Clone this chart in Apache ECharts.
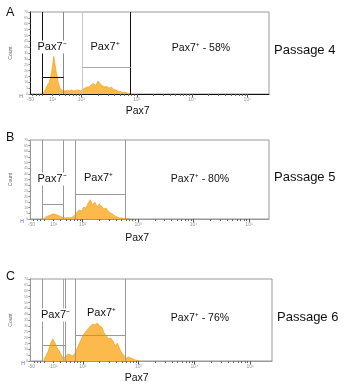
<!DOCTYPE html>
<html><head><meta charset="utf-8">
<script src="https://cdn.jsdelivr.net/npm/echarts@6/dist/echarts.min.js"></script>
<style>html,body{margin:0;padding:0;background:#fff}#c{width:356px;height:391px}</style>
</head><body><div id="c"></div>
<script>
// ---- data ----
const binStart = 1.30;   // first bin centre (log10 decades of Pax7 intensity)
const binWidth = 0.04;   // bin width in decades
const countsP4 = [0, 3, 7, 10, 18, 32, 20, 10, 4, 3, 2.5, 3, 2.5, 3.5, 2.5, 3, 3.5, 2.5, 4, 5, 6, 6, 8, 9, 7, 11, 8.5, 7, 6, 6.5, 5, 6, 4, 3.5, 2.5, 2, 1.5, 1.5, 1, 0.5, 0];
const countsP5 = [0.4, 1.8, 2.7, 3.5, 4.4, 4.4, 3.5, 2.7, 1.8, 1.3, 0.9, 1.3, 0.9, 1.8, 3.5, 6.2, 8, 7, 10.6, 9.7, 14, 17, 12.4, 15, 10.6, 13.3, 11.5, 8.9, 9.7, 7, 5.3, 4.4, 2.7, 1.8, 0.9, 0.9, 0.4, 0.4, 0.3, 0];
const countsP6 = [1.5, 4.3, 8.5, 14.5, 19, 15.4, 11, 8.5, 4.3, 2.6, 4.3, 6, 5.1, 4.3, 6.8, 11, 15.4, 19.6, 23, 25.6, 28, 30, 31.6, 30.7, 32.5, 30, 29, 24, 21.4, 19, 19.6, 17, 12.8, 15.4, 10.2, 6.8, 4.3, 2.6, 3.4, 2.6, 1.7, 0.9, 0.4, 0];
// gates: [from, to, bar height]
const negGateP4 = [1.29, 1.68, 14.5], posGateP4 = [2.02, 2.89, 23];
const negGateP5 = [1.27, 1.645, 13.3], posGateP5 = [1.86, 2.76, 22];
const negGateP6 = [1.27, 1.68, 13.7], posGateP6 = [1.858, 2.764, 22];
const extraLinesP6 = [1.645];
const passages = ['Passage 4', 'Passage 5', 'Passage 6'];
const panelLetters = ['A', 'B', 'C'];
const posPercents = [58, 80, 76];
const majorTickVals = [2, 3, 4, 5];
const majorTickLabels = ['10²', '10³', '10⁴', '10⁵'];
const lowTickVals = [1.08, 1.48];
const lowTickLabels = ['-50', '10¹'];
const yMax = 70, yStep = 5;

// ---- layout ----
const FONT = "'Liberation Sans', Arial, sans-serif";
const panels = [
  { counts: countsP4, neg: negGateP4, pos: posGateP4, extra: [],
    grid: { left: 26, top: 12, width: 243, height: 82 }, xMin: 1.077, xMax: 5.39,
    axisColor: '#111', nameGap: 12, namePad: 24,
    vCol: ['#111', '#888', '#c8c8c8', '#111'], hCol: ['#111', '#aaa'],
    negText: [52, 47], posText: [105, 47], pctText: [201, 48], passText: [274, 50], letter: [6, 13] },
  { counts: countsP5, neg: negGateP5, pos: posGateP5, extra: [],
    grid: { left: 27, top: 140, width: 242, height: 79 }, xMin: 1.059, xMax: 5.357,
    axisColor: '#999', nameGap: 14, namePad: 25,
    vCol: ['#999', '#999', '#999', '#999'], hCol: ['#999', '#999'],
    negText: [52, 179], posText: [98.5, 178], pctText: [200, 179], passText: [274, 177], letter: [6, 138] },
  { counts: countsP6, neg: negGateP6, pos: posGateP6, extra: extraLinesP6,
    grid: { left: 28, top: 279, width: 244, height: 82 }, xMin: 1.059, xMax: 5.39,
    axisColor: '#999', nameGap: 12, namePad: 29,
    vCol: ['#999', '#999', '#999', '#999'], hCol: ['#999', '#999'],
    negText: [55.5, 315], posText: [101.5, 313], pctText: [200, 318], passText: [277, 317], letter: [6, 277] }
];

// axis tick positions (log decades)
const minorTicks = [1.12, 1.18, 1.24];
for (let n = 1; n <= 4; n++) for (let k = 2; k <= 9; k++) minorTicks.push(Math.log10(k * Math.pow(10, n)));
const labelVals = lowTickVals.concat(majorTickVals);
const labelTexts = lowTickLabels.concat(majorTickLabels);

const grids = [], xAxes = [], yAxes = [], series = [], graphics = [];
panels.forEach((p, i) => {
  grids.push(Object.assign({ show: true, borderColor: '#999', borderWidth: 1, backgroundColor: '#fff' }, p.grid));
  xAxes.push({
    gridIndex: i, type: 'value', min: p.xMin, max: p.xMax, position: 'bottom',
    name: 'Pax7', nameLocation: 'middle', nameGap: p.nameGap,
    nameTextStyle: { fontFamily: FONT, fontSize: 10.5, color: '#111', padding: [0, p.namePad, 0, 0] },
    axisLine: { show: true, lineStyle: { color: p.axisColor, width: 1 } },
    axisTick: { show: true, length: 3.5, customValues: majorTickVals, lineStyle: { color: '#555' } },
    axisLabel: { show: true, customValues: labelVals, fontSize: 5, color: '#999', margin: 3, fontFamily: FONT,
      formatter: v => { const j = labelVals.findIndex(t => Math.abs(t - v) < 1e-6); return j >= 0 ? labelTexts[j] : ''; } },
    splitLine: { show: false }
  });
  xAxes.push({
    gridIndex: i, type: 'value', min: p.xMin, max: p.xMax, position: 'bottom',
    axisLine: { show: false },
    axisTick: { show: true, length: 2, customValues: minorTicks, lineStyle: { color: '#666' } },
    axisLabel: { show: false }, splitLine: { show: false }
  });
  yAxes.push({
    gridIndex: i, type: 'value', min: 0, max: yMax, interval: yStep,
    name: 'Count', nameLocation: 'middle', nameGap: 10,
    nameTextStyle: { fontFamily: FONT, fontSize: 5, color: '#666' },
    axisLine: { show: true, lineStyle: { color: p.axisColor, width: 1 } },
    axisTick: { show: true, length: 2, lineStyle: { color: '#888' } },
    axisLabel: { fontSize: 4, color: '#999', margin: 2, fontFamily: FONT },
    splitLine: { show: false }
  });
  const data = p.counts.map((c, j) => [binStart + j * binWidth, c]);
  const v = [p.neg[0], p.neg[1], p.pos[0], p.pos[1]];
  const ml = v.map((x, j) => [{ coord: [x, 0], lineStyle: { color: p.vCol[j] } }, { coord: [x, yMax] }]);
  p.extra.forEach(x => ml.push([{ coord: [x, 0], lineStyle: { color: '#aaa' } }, { coord: [x, yMax] }]));
  ml.push([{ coord: [p.neg[0], p.neg[2]], lineStyle: { color: p.hCol[0] } }, { coord: [p.neg[1], p.neg[2]] }]);
  ml.push([{ coord: [p.pos[0], p.pos[2]], lineStyle: { color: p.hCol[1] } }, { coord: [p.pos[1], p.pos[2]] }]);
  series.push({
    type: 'line', xAxisIndex: i * 2, yAxisIndex: i, data: data, showSymbol: false, symbol: 'none',
    lineStyle: { color: '#F5A21E', width: 0.7 }, areaStyle: { color: '#FCB94C', opacity: 1 },
    animation: false, silent: true,
    markLine: { silent: true, symbol: ['none', 'none'], animation: false, label: { show: false },
      lineStyle: { type: 'solid', width: 1 }, data: ml }
  });
  const txt = (x, y, s, size, align, bg) => graphics.push({ type: 'text', x: x, y: y, z: 100,
    style: { text: s, fontFamily: FONT, fontSize: size, fill: '#111', align: align, verticalAlign: 'middle',
      backgroundColor: bg ? '#fff' : null, padding: bg ? [1, 1] : 0 } });
  txt(p.negText[0], p.negText[1], 'Pax7⁻', 11, 'center', true);
  txt(p.posText[0], p.posText[1], 'Pax7⁺', 11, 'center', true);
  txt(p.pctText[0], p.pctText[1], 'Pax7⁺ - ' + posPercents[i] + '%', 10.5, 'center', false);
  txt(p.passText[0], p.passText[1], passages[i], 13, 'left', false);
  txt(p.letter[0], p.letter[1], panelLetters[i], 12.5, 'left', false);
  graphics.push({ type: 'text', x: p.grid.left - 5, y: p.grid.top + p.grid.height + 3,
    style: { text: 'H', fontFamily: FONT, fontSize: 5, fill: '#5b5bff', align: 'center', verticalAlign: 'middle' } });
});

const chart = echarts.init(document.getElementById('c'), null, { renderer: 'canvas' });
chart.setOption({ animation: false, backgroundColor: '#fff', grid: grids, xAxis: xAxes, yAxis: yAxes, series: series, graphic: graphics });
</script></body></html>
